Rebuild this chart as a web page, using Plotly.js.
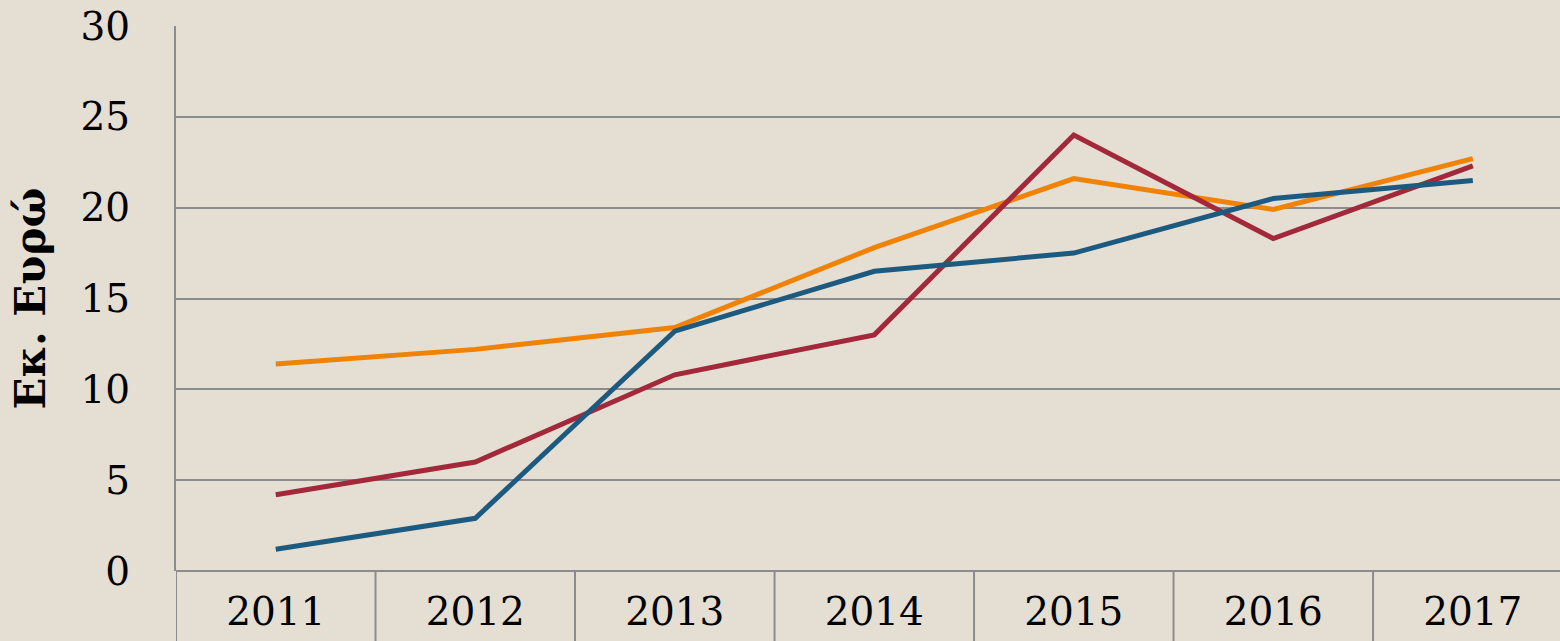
<!DOCTYPE html>
<html>
<head>
<meta charset="utf-8">
<script src="https://cdn.plot.ly/plotly-3.0.1.min.js"></script>
<style>html,body{margin:0;padding:0;background:#E4DED3;}#chart{width:1560px;height:641px;}</style>
</head>
<body>
<div id="chart"></div>
<script>
const years = ['2011', '2012', '2013', '2014', '2015', '2016', '2017'];
const orangeSeries = [11.4, 12.2, 13.4, 17.8, 21.6, 19.9, 22.7];
const redSeries = [4.2, 6.0, 10.8, 13.0, 24.0, 18.3, 22.3];
const blueSeries = [1.2, 2.9, 13.2, 16.5, 17.5, 20.5, 21.5];
const yTicks = [0, 5, 10, 15, 20, 25, 30];
const yTitle = 'Εκ. Ευρώ';

const mk = (y, color) => ({
  x: years, y: y, type: 'scatter', mode: 'lines',
  line: {color: color, width: 5}, hoverinfo: 'x+y'
});

const data = [
  mk(orangeSeries, '#F08206'),
  mk(redSeries, '#A2283A'),
  mk(blueSeries, '#1D5A80')
];

// category boundary separators below the axis
const shapes = [];
for (let i = 0; i <= years.length; i++) {
  shapes.push({
    type: 'line', xref: 'x', yref: 'paper',
    x0: i - 0.5, x1: i - 0.5, y0: 0, y1: -0.2,
    line: {color: '#8C8C8C', width: 2}
  });
}

const layout = {
  width: 1560, height: 641,
  paper_bgcolor: '#E4DED3', plot_bgcolor: '#E4DED3',
  margin: {l: 176, r: 0, t: 26, b: 70},
  showlegend: false,
  font: {family: 'DejaVu Serif', color: '#000'},
  xaxis: {
    type: 'category', range: [-0.5, 6.437],
    showgrid: false, zeroline: false, showline: false,
    ticks: '', tickfont: {size: 39, family: 'DejaVu Serif'},
    ticklabelstandoff: 14
  },
  yaxis: {
    range: [0, 30], tickvals: yTicks, ticktext: yTicks.map(String),
    showgrid: true, gridcolor: '#8C8C8C', gridwidth: 2,
    zeroline: true, zerolinecolor: '#8C8C8C', zerolinewidth: 2,
    showline: true, linecolor: '#8C8C8C', linewidth: 2,
    ticks: '', tickfont: {size: 39, family: 'DejaVu Serif'},
    ticklabelstandoff: 36,
    title: {text: yTitle, font: {size: 42, family: 'DejaVu Serif', weight: 'bold'}, standoff: 22}
  },
  shapes: shapes
};

Plotly.newPlot('chart', data, layout, {displayModeBar: false, staticPlot: true});
</script>
</body>
</html>
